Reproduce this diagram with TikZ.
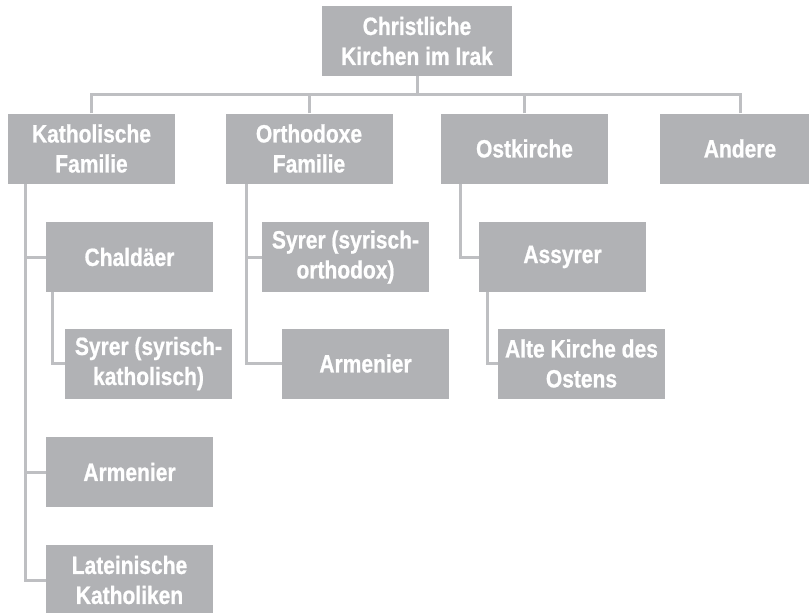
\documentclass[tikz,border=0pt]{standalone}
\usepackage{fontspec}
\setmainfont{Liberation Sans}[FakeStretch=0.84,BoldFeatures={FakeBold=0.8}]
\tikzset{font={\fontsize{25pt}{30pt}\selectfont\bfseries}}
\definecolor{boxgray}{HTML}{B1B2B5}
\definecolor{linegray}{HTML}{BEBFC2}
\tikzstyle{boite-std}=[fill=boxgray,text=white,align=center,inner sep=0pt,minimum width=167pt,minimum height=70pt]
\tikzstyle{lien-std}=[draw=linegray,line width=3pt]

\begin{document}
\begin{tikzpicture}[x=1pt,y=-1pt]
            \useasboundingbox (0,0) rectangle (809,613);
            % racine
            \node[boite-std, minimum width=190pt] (root) at (417,41) {Christliche\\Kirchen im Irak};
            \coordinate (bus) at (417,94);
            %
            \node[boite-std] (kath) at (91.5,148.5) {Katholische\\Familie};
            \node[boite-std] (orth) at (309,148.5) {Orthodoxe\\Familie};
            \node[boite-std] (ost) at (524.5,148.5) {Ostkirche};
            \node[boite-std, minimum width=160pt] (andere) at (740,148.5) {Andere};
            %
            \node[boite-std] (chald) at (129.5,257) {Chald\"aer};
            \node[boite-std] (syrk) at (148.5,363.5) {Syrer (syrisch-\\katholisch)};
            \node[boite-std] (armk) at (129.5,472) {Armenier};
            \node[boite-std] (latk) at (129.5,580) {Lateinische\\Katholiken};
            %
            \node[boite-std] (syro) at (345.5,257) {Syrer (syrisch-\\orthodox)};
            \node[boite-std] (armo) at (365.5,363.5) {Armenier};
            %
            \node[boite-std] (assy) at (562.5,257) {Assyrer};
            \node[boite-std] (alte) at (581.5,363.5) {Alte Kirche des\\Ostens};

            \draw[lien-std] (root) -- (bus);
            \foreach \n in {kath,orth,ost,andere}
               \draw[lien-std] (\n.north) |- (bus);

            \foreach \n in {chald,armk,latk}
               \draw[lien-std] ([xshift=18pt]kath.south west) |- (\n.west);
            \draw[lien-std] ([xshift=7pt]chald.south west) |- (syrk.west);

            \foreach \n in {syro,armo}
               \draw[lien-std] ([xshift=21pt]orth.south west) |- (\n.west);

            \draw[lien-std] ([xshift=20pt]ost.south west) |- (assy.west);
            \draw[lien-std] ([xshift=9pt]assy.south west) |- (alte.west);
        \end{tikzpicture}
\end{document}
